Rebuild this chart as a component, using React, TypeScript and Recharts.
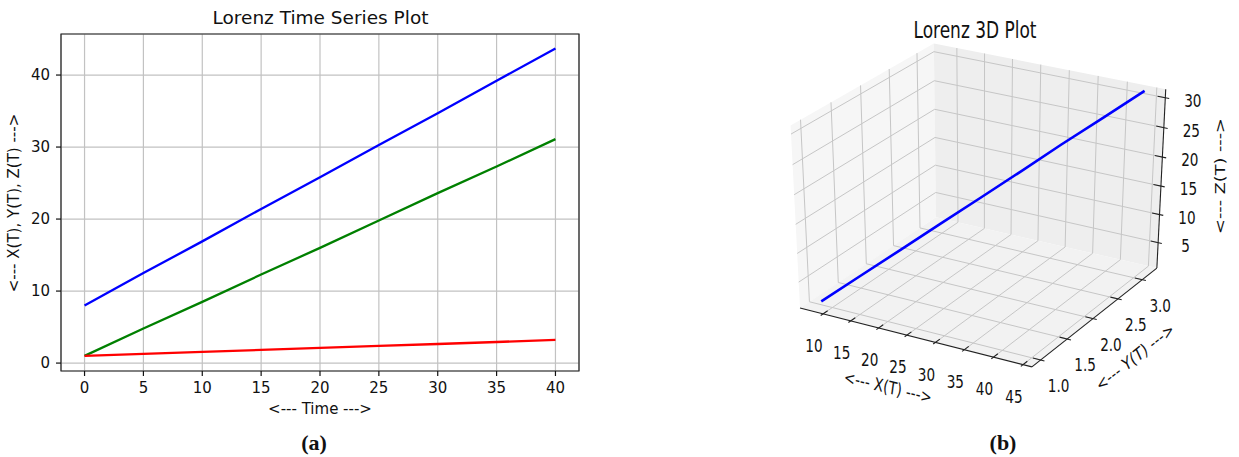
import React from "react";
import {
  LineChart,
  Line,
  XAxis,
  YAxis,
  CartesianGrid,
  ReferenceArea,
  Customized,
} from "recharts";

// ─── Data ─────────────────────────────────────────────────────────────────────

const TIME = [0, 5, 10, 15, 20, 25, 30, 35, 40];
const X_SERIES = [8.0, 12.5, 16.9, 21.4, 25.8, 30.3, 34.7, 39.2, 43.7]; // blue
const Z_SERIES = [1.0, 4.8, 8.5, 12.3, 16.0, 19.8, 23.6, 27.3, 31.1]; // green
const Y_SERIES = [1.0, 1.28, 1.55, 1.83, 2.1, 2.38, 2.65, 2.93, 3.22]; // red

const TIME_TICKS = [0, 5, 10, 15, 20, 25, 30, 35, 40];
const VALUE_TICKS = [0, 10, 20, 30, 40];

const X3_TICKS = [10, 15, 20, 25, 30, 35, 40, 45];
const Y3_TICKS = [1.0, 1.5, 2.0, 2.5, 3.0];
const Z3_TICKS = [5, 10, 15, 20, 25, 30];

// ─── 3D view (matplotlib-style perspective) ───────────────────────────────────

const ELEV = 30;
const AZIM = -60;
const DIST = 10;
const X3_LIM = [5.8, 46.5];
const Y3_LIM = [0.84, 3.31];
const Z3_LIM = [0.4, 31.4];

// projected-plane window shown by the right chart
const PX_DOMAIN: [number, number] = [-0.078895, 0.096302];
const PY_DOMAIN: [number, number] = [-0.123401, 0.095742];
const W3 = 469;
const H3 = 457;
const TEXT_STRETCH = 1.3;

type V3 = [number, number, number];
const dot = (a: V3, b: V3) => a[0] * b[0] + a[1] * b[1] + a[2] * b[2];
const cross = (a: V3, b: V3): V3 => [
  a[1] * b[2] - a[2] * b[1],
  a[2] * b[0] - a[0] * b[2],
  a[0] * b[1] - a[1] * b[0],
];
const unit = (a: V3): V3 => {
  const m = Math.hypot(a[0], a[1], a[2]);
  return [a[0] / m, a[1] / m, a[2] / m];
};

const rel = (ELEV * Math.PI) / 180;
const raz = (AZIM * Math.PI) / 180;
const EYE: V3 = [
  0.5 + Math.cos(raz) * Math.cos(rel) * DIST,
  0.5 + Math.sin(raz) * Math.cos(rel) * DIST,
  0.5 + Math.sin(rel) * DIST,
];
const N = unit([EYE[0] - 0.5, EYE[1] - 0.5, EYE[2] - 0.5]);
const U = unit(cross([0, 0, 1], N));
const V = cross(N, U);

function project(x: number, y: number, z: number) {
  const q: V3 = [
    (x - X3_LIM[0]) / (X3_LIM[1] - X3_LIM[0]) - EYE[0],
    (y - Y3_LIM[0]) / (Y3_LIM[1] - Y3_LIM[0]) - EYE[1],
    (z - Z3_LIM[0]) / (Z3_LIM[1] - Z3_LIM[0]) - EYE[2],
  ];
  const w = -dot(N, q);
  return { px: dot(U, q) / w, py: dot(V, q) / w };
}

function toScreen(x: number, y: number, z: number): [number, number] {
  const { px, py } = project(x, y, z);
  return [
    ((px - PX_DOMAIN[0]) / (PX_DOMAIN[1] - PX_DOMAIN[0])) * W3,
    ((PY_DOMAIN[1] - py) / (PY_DOMAIN[1] - PY_DOMAIN[0])) * H3,
  ];
}

const pts = (list: V3[]) => list.map((p) => toScreen(p[0], p[1], p[2]).join(",")).join(" ");

const timeRows = TIME.map((t, i) => ({ t, x: X_SERIES[i], y: Y_SERIES[i], z: Z_SERIES[i] }));
const trajectory = TIME.map((_, i) => project(X_SERIES[i], Y_SERIES[i], Z_SERIES[i]));

// ─── Text helpers ─────────────────────────────────────────────────────────────

const SANS = "'DejaVu Sans', sans-serif";

function PageText({ x, y, size, rotate = 0, bold = false, serif = false, children }: {
  x: number; y: number; size: number; rotate?: number; bold?: boolean; serif?: boolean; children: React.ReactNode;
}) {
  return (
    <div
      style={{
        position: "absolute",
        left: x,
        top: y,
        transform: `translate(-50%, -50%) rotate(${rotate}deg)`,
        fontSize: size,
        fontFamily: serif ? "'Liberation Serif', 'Times New Roman', serif" : SANS,
        fontWeight: bold ? 700 : 400,
        lineHeight: 1,
        whiteSpace: "nowrap",
        color: "#111",
      }}
    >
      {children}
    </div>
  );
}

function SvgText({ x, y, size, rotate = 0, children }: {
  x: number; y: number; size: number; rotate?: number; children: React.ReactNode;
}) {
  return (
    <text
      transform={`translate(${x},${y}) scale(1,${TEXT_STRETCH}) rotate(${rotate})`}
      textAnchor="middle"
      dy="0.35em"
      fontSize={size}
      fontFamily={SANS}
      fill="#111"
    >
      {children}
    </text>
  );
}

// ─── 3D box: panes, grid, axes, labels ────────────────────────────────────────

function Box3D() {
  const [x0, x1] = X3_LIM;
  const [y0, y1] = Y3_LIM;
  const [z0, z1] = Z3_LIM;
  const dx = (x1 - x0) * 0.016;
  const dy = (y1 - y0) * 0.016;
  const grid = { stroke: "#c6c6c6", strokeWidth: 1, fill: "none" };
  const axis = { stroke: "#222", strokeWidth: 1.1, fill: "none" };

  return (
    <g>
      <polygon points={pts([[x0, y0, z0], [x0, y1, z0], [x0, y1, z1], [x0, y0, z1]])} fill="#f6f6f6" />
      <polygon points={pts([[x0, y1, z0], [x1, y1, z0], [x1, y1, z1], [x0, y1, z1]])} fill="#eeeeee" />
      <polygon points={pts([[x0, y0, z0], [x1, y0, z0], [x1, y1, z0], [x0, y1, z0]])} fill="#f2f2f2" />

      {X3_TICKS.map((t) => (
        <polyline key={`gx${t}`} {...grid} points={pts([[t, y0, z0], [t, y1, z0], [t, y1, z1]])} />
      ))}
      {Y3_TICKS.map((t) => (
        <polyline key={`gy${t}`} {...grid} points={pts([[x1, t, z0], [x0, t, z0], [x0, t, z1]])} />
      ))}
      {Z3_TICKS.map((t) => (
        <polyline key={`gz${t}`} {...grid} points={pts([[x0, y0, t], [x0, y1, t], [x1, y1, t]])} />
      ))}

      <polyline {...axis} points={pts([[x0, y0, z0], [x1, y0, z0]])} />
      <polyline {...axis} points={pts([[x1, y0, z0], [x1, y1, z0]])} />
      <polyline {...axis} points={pts([[x1, y1, z0], [x1, y1, z1]])} />

      {X3_TICKS.map((t) => (
        <polyline key={`tx${t}`} {...axis} points={pts([[t, y0 - dy, z0], [t, y0 + dy * 2, z0]])} />
      ))}
      {Y3_TICKS.map((t) => (
        <polyline key={`ty${t}`} {...axis} points={pts([[x1 + dx, t, z0], [x1 - dx * 2, t, z0]])} />
      ))}
      {Z3_TICKS.map((t) => (
        <polyline key={`tz${t}`} {...axis} points={pts([[x1 + dx, y1, t], [x1 - dx * 2, y1, t]])} />
      ))}

      {X3_TICKS.map((t) => {
        const [sx, sy] = toScreen(t, y0, z0);
        return <SvgText key={`lx${t}`} x={sx - 9} y={sy + 32} size={13.6}>{t}</SvgText>;
      })}
      {Y3_TICKS.map((t) => {
        const [sx, sy] = toScreen(x1, t, z0);
        return <SvgText key={`ly${t}`} x={sx + 18} y={sy + 26} size={13.6}>{t.toFixed(1)}</SvgText>;
      })}
      {Z3_TICKS.map((t) => {
        const [sx, sy] = toScreen(x1, y1, t);
        return <SvgText key={`lz${t}`} x={sx + 27.5} y={sy + 3} size={13.6}>{t}</SvgText>;
      })}

      <SvgText x={118} y={387} size={13.6} rotate={10.4}>{"<--- X(T) --->"}</SvgText>
      <SvgText x={365} y={357} size={13.6} rotate={-31.3}>{"<--- Y(T) --->"}</SvgText>
      <SvgText x={450} y={176} size={13.6} rotate={-90}>{"<--- Z(T) --->"}</SvgText>
      <SvgText x={205} y={30} size={17} rotate={0}>Lorenz 3D Plot</SvgText>
    </g>
  );
}

// ─── App ──────────────────────────────────────────────────────────────────────

export default function App() {
  const tickStyle = { fontSize: 15, fill: "#111", fontFamily: SANS };

  return (
    <div style={{ position: "absolute", left: 0, top: 0, width: 1239, height: 457, background: "#fff", overflow: "hidden" }}>
      {/* (a) time series */}
      <div style={{ position: "absolute", left: 0, top: 0 }}>
        <LineChart width={600} height={420} data={timeRows} margin={{ top: 34, right: 21, left: 11, bottom: 19 }}>
          <CartesianGrid stroke="#c2c2c2" strokeWidth={1.2} />
          <XAxis
            dataKey="t"
            type="number"
            domain={[-2, 42]}
            ticks={TIME_TICKS}
            allowDataOverflow
            height={30}
            axisLine={false}
            tickSize={5}
            tickMargin={6}
            tickLine={{ stroke: "#111", strokeWidth: 1.2 }}
            tick={tickStyle}
            interval={0}
          />
          <YAxis
            type="number"
            domain={[-1.1, 45.7]}
            ticks={VALUE_TICKS}
            allowDataOverflow
            width={50}
            axisLine={false}
            tickSize={5}
            tickMargin={6}
            tickLine={{ stroke: "#111", strokeWidth: 1.2 }}
            tick={tickStyle}
            interval={0}
          />
          <Line type="linear" dataKey="x" stroke="#0000ff" strokeWidth={2.3} dot={false} activeDot={false} isAnimationActive={false} />
          <Line type="linear" dataKey="z" stroke="#008000" strokeWidth={2.3} dot={false} activeDot={false} isAnimationActive={false} />
          <Line type="linear" dataKey="y" stroke="#ff0000" strokeWidth={2.3} dot={false} activeDot={false} isAnimationActive={false} />
          <ReferenceArea x1={-2} x2={42} y1={-1.1} y2={45.7} fill="none" stroke="#222" strokeWidth={1.2} ifOverflow="visible" />
        </LineChart>
      </div>
      <PageText x={320.5} y={18} size={18.5}>Lorenz Time Series Plot</PageText>
      <PageText x={320} y={409} size={15}>{"<--- Time --->"}</PageText>
      <PageText x={13.5} y={203} size={15} rotate={-90}>{"<--- X(T), Y(T), Z(T) --->"}</PageText>
      <PageText x={314} y={443} size={22} bold serif>(a)</PageText>

      {/* (b) 3D trajectory */}
      <div style={{ position: "absolute", left: 770, top: 0 }}>
        <LineChart width={W3} height={H3} data={trajectory} margin={{ top: 0, right: 0, left: 0, bottom: 0 }}>
          <Customized component={<Box3D />} />
          <XAxis dataKey="px" type="number" domain={PX_DOMAIN} allowDataOverflow hide />
          <YAxis type="number" domain={PY_DOMAIN} allowDataOverflow hide />
          <Line type="linear" dataKey="py" stroke="#0000ff" strokeWidth={2.6} dot={false} activeDot={false} isAnimationActive={false} />
        </LineChart>
      </div>
      <PageText x={1003} y={443} size={22} bold serif>(b)</PageText>
    </div>
  );
}
